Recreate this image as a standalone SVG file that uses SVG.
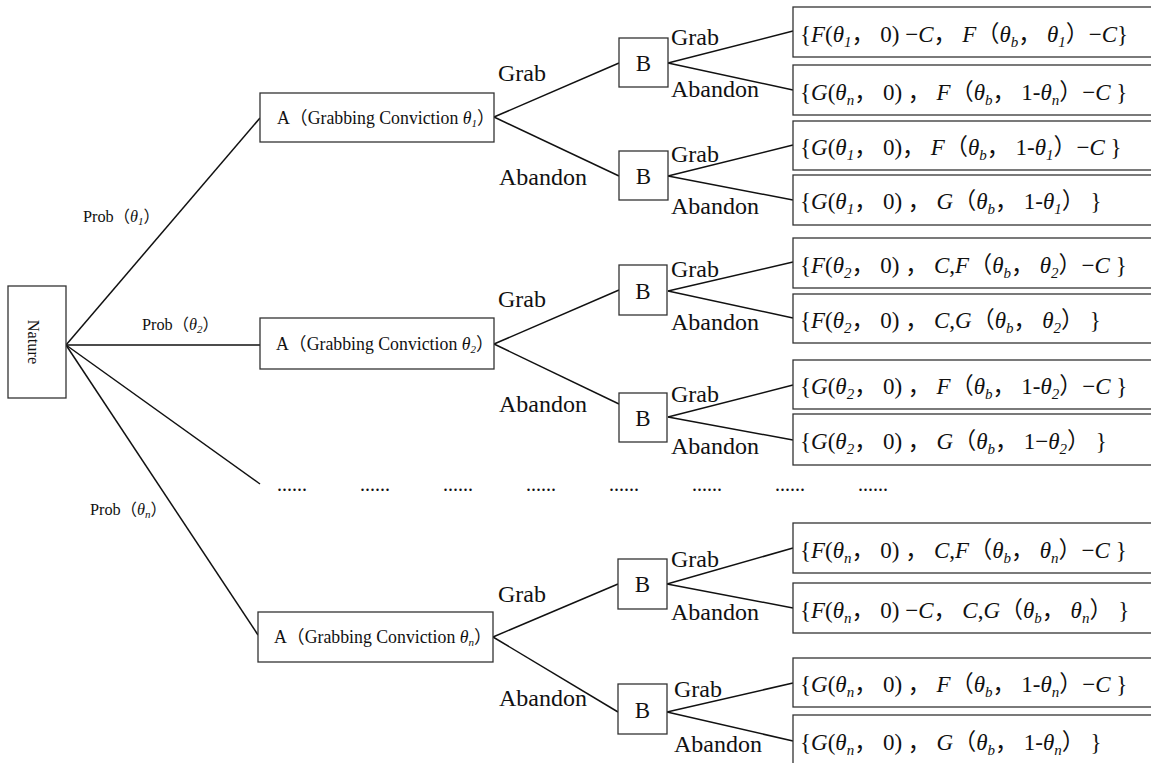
<svg xmlns="http://www.w3.org/2000/svg" width="1151" height="763" viewBox="0 0 1151 763">
<style>
.bg{fill:#fff}
.box{fill:#fff;stroke:#333;stroke-width:1.3}
.ln{stroke:#111;stroke-width:1.5;fill:none}
text{font-family:"Liberation Serif","Times New Roman",serif;fill:#111}
.cj{font-family:"Noto Sans CJK SC",sans-serif;font-style:normal}
.pay{font-size:23px}
.lab{font-size:24px}
.bt{font-size:23px;text-anchor:middle}
.at{font-size:17.8px}
.pt{font-size:16.3px}
.dots{font-size:20px}
.i{font-style:italic}
.s{font-size:15px}
.s2{font-size:11px}
</style>
<rect class="bg" width="1151" height="763"/>
<g id="connectors">
<line class="ln" x1="66" y1="345" x2="260" y2="118"/>
<line class="ln" x1="66" y1="345" x2="260" y2="345"/>
<line class="ln" x1="66" y1="345" x2="260" y2="484"/>
<line class="ln" x1="66" y1="345" x2="258" y2="635"/>
<line class="ln" x1="494" y1="117" x2="619" y2="63"/>
<line class="ln" x1="494" y1="117" x2="619" y2="176"/>
<line class="ln" x1="494" y1="344" x2="619" y2="290"/>
<line class="ln" x1="494" y1="344" x2="619" y2="404"/>
<line class="ln" x1="493" y1="637" x2="618" y2="584"/>
<line class="ln" x1="493" y1="637" x2="618" y2="712"/>
<line class="ln" x1="668" y1="63" x2="793" y2="31"/>
<line class="ln" x1="668" y1="63" x2="793" y2="90"/>
<line class="ln" x1="668" y1="176" x2="793" y2="145"/>
<line class="ln" x1="668" y1="176" x2="793" y2="200"/>
<line class="ln" x1="668" y1="291" x2="793" y2="262"/>
<line class="ln" x1="668" y1="291" x2="793" y2="318"/>
<line class="ln" x1="668" y1="417" x2="793" y2="385"/>
<line class="ln" x1="668" y1="417" x2="793" y2="440"/>
<line class="ln" x1="667" y1="584" x2="793" y2="548"/>
<line class="ln" x1="667" y1="584" x2="793" y2="608"/>
<line class="ln" x1="667" y1="712" x2="793" y2="683"/>
<line class="ln" x1="667" y1="712" x2="793" y2="741"/>
<text class="pt" x="83" y="222">Prob<tspan class="cj">（</tspan><tspan class="i">θ</tspan><tspan class="i s2" dy="3">1</tspan><tspan class="cj" dy="-3">）</tspan></text>
<text class="pt" x="142" y="330">Prob<tspan class="cj">（</tspan><tspan class="i">θ</tspan><tspan class="i s2" dy="3">2</tspan><tspan class="cj" dy="-3">）</tspan></text>
<text class="pt" x="90" y="515">Prob<tspan class="cj">（</tspan><tspan class="i">θ</tspan><tspan class="i s2" dy="3">n</tspan><tspan class="cj" dy="-3">）</tspan></text>
<text class="lab" x="498" y="81">Grab</text>
<text class="lab" x="499" y="185">Abandon</text>
<text class="lab" x="671" y="45">Grab</text>
<text class="lab" x="671" y="97">Abandon</text>
<text class="lab" x="671" y="162">Grab</text>
<text class="lab" x="671" y="214">Abandon</text>
<text class="lab" x="498" y="307">Grab</text>
<text class="lab" x="499" y="412">Abandon</text>
<text class="lab" x="671" y="277">Grab</text>
<text class="lab" x="671" y="330">Abandon</text>
<text class="lab" x="671" y="402">Grab</text>
<text class="lab" x="671" y="454">Abandon</text>
<text class="lab" x="498" y="602">Grab</text>
<text class="lab" x="499" y="706">Abandon</text>
<text class="lab" x="671" y="567">Grab</text>
<text class="lab" x="671" y="620">Abandon</text>
<text class="lab" x="674" y="697">Grab</text>
<text class="lab" x="674" y="752">Abandon</text>
</g>
<g id="ellipsis">
<text class="dots" x="277" y="491">......</text>
<text class="dots" x="360" y="491">......</text>
<text class="dots" x="443" y="491">......</text>
<text class="dots" x="526" y="491">......</text>
<text class="dots" x="609" y="491">......</text>
<text class="dots" x="692" y="491">......</text>
<text class="dots" x="775" y="491">......</text>
<text class="dots" x="858" y="491">......</text>
</g>
<g id="nature">
<rect class="box" x="8" y="286" width="58" height="112"/>
<text class="pt" transform="translate(28,342) rotate(90)" text-anchor="middle">Nature</text>
</g>
<g id="A1">
<rect class="box" x="260" y="93" width="234" height="49"/>
<text class="at" x="277" y="124">A<tspan class="cj">（</tspan>Grabbing Conviction <tspan class="i">θ</tspan><tspan class="i s2" dy="3">1</tspan><tspan class="cj" dy="-3">）</tspan></text>
</g>
<g id="A2">
<rect class="box" x="260" y="318" width="234" height="51"/>
<text class="at" x="276" y="350">A<tspan class="cj">（</tspan>Grabbing Conviction <tspan class="i">θ</tspan><tspan class="i s2" dy="3">2</tspan><tspan class="cj" dy="-3">）</tspan></text>
</g>
<g id="An">
<rect class="box" x="258" y="612" width="235" height="50"/>
<text class="at" x="274" y="643">A<tspan class="cj">（</tspan>Grabbing Conviction <tspan class="i">θ</tspan><tspan class="i s2" dy="3">n</tspan><tspan class="cj" dy="-3">）</tspan></text>
</g>
<g id="B1"><rect class="box" x="619" y="38" width="49" height="49"/><text class="bt" x="643.5" y="71">B</text></g>
<g id="B2"><rect class="box" x="619" y="151" width="49" height="49"/><text class="bt" x="643.5" y="184">B</text></g>
<g id="B3"><rect class="box" x="619" y="265" width="48" height="50"/><text class="bt" x="643" y="299">B</text></g>
<g id="B4"><rect class="box" x="619" y="393" width="48" height="49"/><text class="bt" x="643" y="426">B</text></g>
<g id="B5"><rect class="box" x="618" y="559" width="49" height="50"/><text class="bt" x="642.5" y="592">B</text></g>
<g id="B6"><rect class="box" x="618" y="684" width="49" height="50"/><text class="bt" x="642.5" y="718">B</text></g>
<g id="P1"><rect class="box" x="793" y="7" width="370" height="50"/>
<text class="pay" x="800" y="42">{<tspan class="i">F</tspan>(<tspan class="i">θ</tspan><tspan class="i s" dy="5">1</tspan><tspan class="cj" dy="-5">，</tspan> 0) −<tspan class="i">C</tspan><tspan class="cj">，</tspan> <tspan class="i">F</tspan><tspan class="cj">（</tspan><tspan class="i">θ</tspan><tspan class="i s" dy="5">b</tspan><tspan class="cj" dy="-5">，</tspan> <tspan class="i">θ</tspan><tspan class="i s" dy="5">1</tspan><tspan class="cj" dy="-5">）</tspan>−<tspan class="i">C</tspan>}</text></g>
<g id="P2"><rect class="box" x="793" y="65" width="370" height="50"/>
<text class="pay" x="800" y="100">{<tspan class="i">G</tspan>(<tspan class="i">θ</tspan><tspan class="i s" dy="5">n</tspan><tspan class="cj" dy="-5">，</tspan> 0) <tspan class="cj">，</tspan> <tspan class="i">F</tspan><tspan class="cj">（</tspan><tspan class="i">θ</tspan><tspan class="i s" dy="5">b</tspan><tspan class="cj" dy="-5">，</tspan> 1-<tspan class="i">θ</tspan><tspan class="i s" dy="5">n</tspan><tspan class="cj" dy="-5">）</tspan>−<tspan class="i">C</tspan> }</text></g>
<g id="P3"><rect class="box" x="793" y="121" width="370" height="49"/>
<text class="pay" x="800" y="155">{<tspan class="i">G</tspan>(<tspan class="i">θ</tspan><tspan class="i s" dy="5">1</tspan><tspan class="cj" dy="-5">，</tspan> 0)<tspan class="cj">，</tspan> <tspan class="i">F</tspan><tspan class="cj">（</tspan><tspan class="i">θ</tspan><tspan class="i s" dy="5">b</tspan><tspan class="cj" dy="-5">，</tspan> 1-<tspan class="i">θ</tspan><tspan class="i s" dy="5">1</tspan><tspan class="cj" dy="-5">）</tspan>−<tspan class="i">C</tspan> }</text></g>
<g id="P4"><rect class="box" x="793" y="175" width="370" height="50"/>
<text class="pay" x="800" y="209">{<tspan class="i">G</tspan>(<tspan class="i">θ</tspan><tspan class="i s" dy="5">1</tspan><tspan class="cj" dy="-5">，</tspan> 0) <tspan class="cj">，</tspan> <tspan class="i">G</tspan><tspan class="cj">（</tspan><tspan class="i">θ</tspan><tspan class="i s" dy="5">b</tspan><tspan class="cj" dy="-5">，</tspan> 1-<tspan class="i">θ</tspan><tspan class="i s" dy="5">1</tspan><tspan class="cj" dy="-5">）</tspan> }</text></g>
<g id="P5"><rect class="box" x="793" y="238" width="370" height="50"/>
<text class="pay" x="800" y="273">{<tspan class="i">F</tspan>(<tspan class="i">θ</tspan><tspan class="i s" dy="5">2</tspan><tspan class="cj" dy="-5">，</tspan> 0) <tspan class="cj">，</tspan> <tspan class="i">C</tspan>,<tspan class="i">F</tspan><tspan class="cj">（</tspan><tspan class="i">θ</tspan><tspan class="i s" dy="5">b</tspan><tspan class="cj" dy="-5">，</tspan> <tspan class="i">θ</tspan><tspan class="i s" dy="5">2</tspan><tspan class="cj" dy="-5">）</tspan>−<tspan class="i">C</tspan> }</text></g>
<g id="P6"><rect class="box" x="793" y="294" width="370" height="49"/>
<text class="pay" x="800" y="328">{<tspan class="i">F</tspan>(<tspan class="i">θ</tspan><tspan class="i s" dy="5">2</tspan><tspan class="cj" dy="-5">，</tspan> 0) <tspan class="cj">，</tspan> <tspan class="i">C</tspan>,<tspan class="i">G</tspan><tspan class="cj">（</tspan><tspan class="i">θ</tspan><tspan class="i s" dy="5">b</tspan><tspan class="cj" dy="-5">，</tspan> <tspan class="i">θ</tspan><tspan class="i s" dy="5">2</tspan><tspan class="cj" dy="-5">）</tspan> }</text></g>
<g id="P7"><rect class="box" x="793" y="360" width="370" height="49"/>
<text class="pay" x="800" y="394">{<tspan class="i">G</tspan>(<tspan class="i">θ</tspan><tspan class="i s" dy="5">2</tspan><tspan class="cj" dy="-5">，</tspan> 0) <tspan class="cj">，</tspan> <tspan class="i">F</tspan><tspan class="cj">（</tspan><tspan class="i">θ</tspan><tspan class="i s" dy="5">b</tspan><tspan class="cj" dy="-5">，</tspan> 1-<tspan class="i">θ</tspan><tspan class="i s" dy="5">2</tspan><tspan class="cj" dy="-5">）</tspan>−<tspan class="i">C</tspan> }</text></g>
<g id="P8"><rect class="box" x="793" y="414" width="370" height="51"/>
<text class="pay" x="800" y="449">{<tspan class="i">G</tspan>(<tspan class="i">θ</tspan><tspan class="i s" dy="5">2</tspan><tspan class="cj" dy="-5">，</tspan> 0) <tspan class="cj">，</tspan> <tspan class="i">G</tspan><tspan class="cj">（</tspan><tspan class="i">θ</tspan><tspan class="i s" dy="5">b</tspan><tspan class="cj" dy="-5">，</tspan> 1−<tspan class="i">θ</tspan><tspan class="i s" dy="5">2</tspan><tspan class="cj" dy="-5">）</tspan> }</text></g>
<g id="P9"><rect class="box" x="793" y="523" width="370" height="50"/>
<text class="pay" x="800" y="558">{<tspan class="i">F</tspan>(<tspan class="i">θ</tspan><tspan class="i s" dy="5">n</tspan><tspan class="cj" dy="-5">，</tspan> 0) <tspan class="cj">，</tspan> <tspan class="i">C</tspan>,<tspan class="i">F</tspan><tspan class="cj">（</tspan><tspan class="i">θ</tspan><tspan class="i s" dy="5">b</tspan><tspan class="cj" dy="-5">，</tspan> <tspan class="i">θ</tspan><tspan class="i s" dy="5">n</tspan><tspan class="cj" dy="-5">）</tspan>−<tspan class="i">C</tspan> }</text></g>
<g id="P10"><rect class="box" x="793" y="583" width="370" height="50"/>
<text class="pay" x="800" y="618">{<tspan class="i">F</tspan>(<tspan class="i">θ</tspan><tspan class="i s" dy="5">n</tspan><tspan class="cj" dy="-5">，</tspan> 0) −<tspan class="i">C</tspan><tspan class="cj">，</tspan> <tspan class="i">C</tspan>,<tspan class="i">G</tspan><tspan class="cj">（</tspan><tspan class="i">θ</tspan><tspan class="i s" dy="5">b</tspan><tspan class="cj" dy="-5">，</tspan> <tspan class="i">θ</tspan><tspan class="i s" dy="5">n</tspan><tspan class="cj" dy="-5">）</tspan> }</text></g>
<g id="P11"><rect class="box" x="793" y="658" width="370" height="49"/>
<text class="pay" x="800" y="692">{<tspan class="i">G</tspan>(<tspan class="i">θ</tspan><tspan class="i s" dy="5">n</tspan><tspan class="cj" dy="-5">，</tspan> 0) <tspan class="cj">，</tspan> <tspan class="i">F</tspan><tspan class="cj">（</tspan><tspan class="i">θ</tspan><tspan class="i s" dy="5">b</tspan><tspan class="cj" dy="-5">，</tspan> 1-<tspan class="i">θ</tspan><tspan class="i s" dy="5">n</tspan><tspan class="cj" dy="-5">）</tspan>−<tspan class="i">C</tspan> }</text></g>
<g id="P12"><rect class="box" x="793" y="715" width="370" height="60"/>
<text class="pay" x="800" y="750">{<tspan class="i">G</tspan>(<tspan class="i">θ</tspan><tspan class="i s" dy="5">n</tspan><tspan class="cj" dy="-5">，</tspan> 0) <tspan class="cj">，</tspan> <tspan class="i">G</tspan><tspan class="cj">（</tspan><tspan class="i">θ</tspan><tspan class="i s" dy="5">b</tspan><tspan class="cj" dy="-5">，</tspan> 1-<tspan class="i">θ</tspan><tspan class="i s" dy="5">n</tspan><tspan class="cj" dy="-5">）</tspan> }</text></g>
</svg>
